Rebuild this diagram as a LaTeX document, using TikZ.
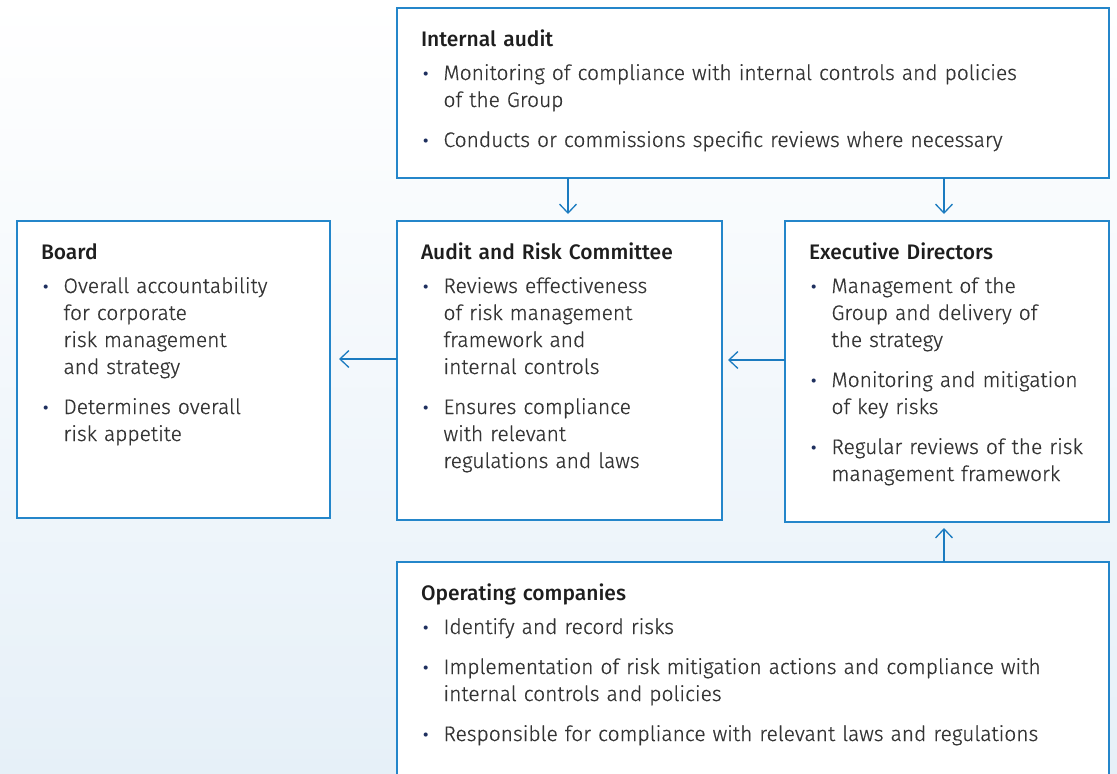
\documentclass[tikz,border=0pt]{standalone}
\usepackage{fontspec}
\setmainfont{Fira Sans}[UprightFont=* Light, UprightFeatures={FakeBold=0.6}, BoldFont=* Medium]
\usetikzlibrary{arrows.meta}
\definecolor{boxblue}{RGB}{36,134,202}
\definecolor{arrblue}{RGB}{27,123,192}
\definecolor{bgblue}{RGB}{230,240,248}
\definecolor{txtc}{RGB}{52,52,52}
\definecolor{headc}{RGB}{30,30,30}
\definecolor{bulc}{RGB}{30,47,94}
\newcommand{\bitem}[1]{\par\vspace{13pt}\noindent\hangindent=22.5pt\hangafter=1\makebox[22.5pt][l]{\hspace{2pt}\raisebox{0.5pt}{\textcolor{bulc}{\fontsize{16}{16}\selectfont\bfseries\textbullet}}}#1\par}
\newcommand{\bhead}[1]{\noindent{\color{headc}\bfseries #1}\par\vspace{-6pt}}
\tikzset{
  boxst/.style={draw=boxblue, line width=1.4pt, fill=white, anchor=north west, inner sep=0pt, outer sep=0pt},
  txtblk/.style={anchor=base west, inner sep=0pt, outer sep=0pt, text width=900pt, align=left, text=txtc, font=\fontsize{21}{27}\selectfont},
  arr/.style={draw=arrblue, line width=1.3pt, -{Straight Barb[length=9pt,width=17pt]}}
}
\begin{document}
\begin{tikzpicture}[x=1pt,y=-1pt]
\useasboundingbox (0,0) rectangle (1117,774);
\begin{scope}
\clip (0,0) rectangle (1117,774);
\shade[top color=white, bottom color=bgblue] (0,0) rectangle (1117,774);
% boxes
\node[boxst, minimum width=712pt, minimum height=170pt] (ia) at (397,8) {};
\node[boxst, minimum width=313pt, minimum height=297pt] (board) at (17,221) {};
\node[boxst, minimum width=325pt, minimum height=299pt] (arc) at (397,221) {};
\node[boxst, minimum width=324pt, minimum height=301pt] (ed) at (785,221) {};
\node[boxst, minimum width=712pt, minimum height=240pt] (op) at (397,562) {};
% texts
\node[txtblk] (iat) at ([shift={(24,38)}]ia.north west) {\bhead{Internal audit}%
\bitem{Monitoring of compliance with internal controls and policies\newline of the Group}%
\bitem{Conducts or commissions specific reviews where necessary}};
\node[txtblk] (boardt) at ([shift={(24,38)}]board.north west) {\bhead{Board}%
\bitem{Overall accountability\newline for corporate\newline risk management\newline and strategy}%
\bitem{Determines overall\newline risk appetite}};
\node[txtblk] (arct) at ([shift={(24,38)}]arc.north west) {\bhead{Audit and Risk Committee}%
\bitem{Reviews effectiveness\newline of risk management\newline framework and\newline internal controls}%
\bitem{Ensures compliance\newline with relevant\newline regulations and laws}};
\node[txtblk] (edt) at ([shift={(24,38)}]ed.north west) {\bhead{Executive Directors}%
\bitem{Management of the\newline Group and delivery of\newline the strategy}%
\bitem{Monitoring and mitigation\newline of key risks}%
\bitem{Regular reviews of the risk\newline management framework}};
\node[txtblk] (opt) at ([shift={(24,38)}]op.north west) {\bhead{Operating companies}%
\bitem{Identify and record risks}%
\bitem{Implementation of risk mitigation actions and compliance with\newline internal controls and policies}%
\bitem{Responsible for compliance with relevant laws and regulations}};
% connectors
\draw[arr, shorten >=7pt] ([xshift=8.5pt]arc.north |- ia.south) -- ([xshift=8.5pt]arc.north);
\draw[arr, shorten >=7pt] ([xshift=-3pt]ed.north |- ia.south) -- ([xshift=-3pt]ed.north);
\draw[arr, shorten >=6pt] ([yshift=11.5pt]ed.west) -- ([yshift=11.5pt]ed.west -| arc.east);
\draw[arr, shorten >=9pt] ([yshift=11.5pt]arc.west) -- ([yshift=11.5pt]arc.west -| board.east);
\draw[arr, shorten >=6pt] ([xshift=-3pt]ed.south |- op.north) -- ([xshift=-3pt]ed.south);
\end{scope}
\end{tikzpicture}
\end{document}
